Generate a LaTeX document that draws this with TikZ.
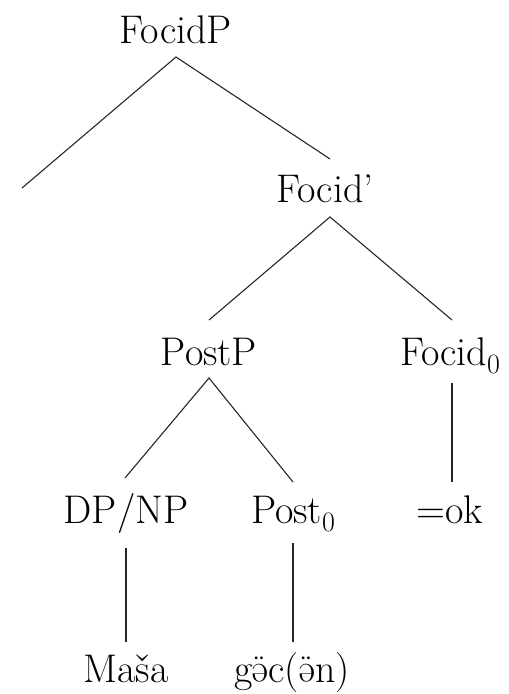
\documentclass[tikz,border=0pt]{standalone}
\usepackage{graphicx}
% schwa with diaeresis, built from a turned e
\newcommand{\schwauml}{\"{\rotatebox[origin=c]{180}{e}}}
% subscript zero set in the text font
\newcommand{\subzero}{\raisebox{-0.2em}{\fontsize{28}{30}\selectfont 0}}
\begin{document}
\begin{tikzpicture}[x=1pt,y=-1pt,
  lbl/.style={anchor=base,inner sep=0pt,font=\fontsize{40}{48}\selectfont},
  branch/.style={line width=1.1pt,draw=black!85}]
\useasboundingbox (0,0) rectangle (509,694);

% labels (placed on their baselines)
\node[lbl] (FocidP) at (176,43) {FocidP};
\node[lbl] (FocidB) at (325,202) {Focid'};
\node[lbl] (PostP) at (209,365) {PostP};
\node[lbl] (Focid0) at (450,365) {Focid\subzero};
\node[lbl] (DPNP) at (126,523) {DP/NP};
\node[lbl] (Post0) at (293,523) {Post\subzero};
\node[lbl] (ok) at (450,523) {=ok};
\node[lbl] (Masa) at (126,682) {Maša};
\node[lbl] (gec) at (292,682) {g\schwauml c(\schwauml n)};

% branch points under and over the labels
\coordinate (FocidP-d) at (176,57);
\coordinate (spec) at (22,188);
\coordinate (FocidB-u) at (330,159);
\coordinate (FocidB-d) at (330,217);
\coordinate (PostP-u) at (209,320);
\coordinate (PostP-d) at (209,378);
\coordinate (Focid0-u) at (452,320);
\coordinate (Focid0-d) at (452,383);
\coordinate (DPNP-u) at (125,478);
\coordinate (DPNP-d) at (126,548);
\coordinate (Post0-u) at (293,482);
\coordinate (Post0-d) at (293,543);
\coordinate (ok-u) at (452,482);
\coordinate (Masa-u) at (126,642);
\coordinate (gec-u) at (293,642);

\draw[branch] (spec) -- (FocidP-d) -- (FocidB-u);
\draw[branch] (PostP-u) -- (FocidB-d) -- (Focid0-u);
\draw[branch] (DPNP-u) -- (PostP-d) -- (Post0-u);
\draw[branch] (Focid0-d) -- (ok-u);
\draw[branch] (DPNP-d) -- (Masa-u);
\draw[branch] (Post0-d) -- (gec-u);
\end{tikzpicture}
\end{document}
